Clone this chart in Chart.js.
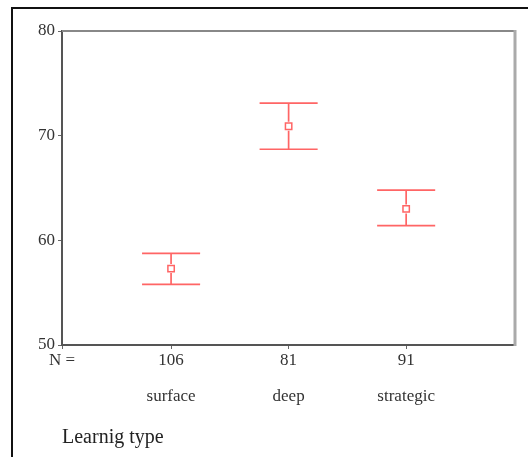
<!DOCTYPE html>
<html>
<head>
<meta charset="utf-8">
<script src="https://cdn.jsdelivr.net/npm/chart.js@4/dist/chart.umd.min.js"></script>
<style>
  html, body { margin: 0; padding: 0; background: #fff; }
  #wrap { width: 528px; height: 457px; }
</style>
</head>
<body>
<div id="wrap"><canvas id="chart" width="528" height="457"></canvas></div>
<script>
// Datos
const categories = ["surface", "deep", "strategic"];
const groupSizes = [106, 81, 91];
const means = [57.3, 70.9, 63.0];
const upperCI = [58.75, 73.1, 64.8];
const lowerCI = [55.8, 68.7, 61.4];
const yTicks = [50, 60, 70, 80];
const xTitle = "Learnig type";
const nLabel = "N =";

const X_MIN = 0.072;
const X_MAX = 3.926;
const RED = "rgba(255, 50, 50, 0.75)";
const SERIF = "'Liberation Serif', 'DejaVu Serif', serif";

// Barras de error con las escalas del gráfico
const errorBars = {
  id: "errorBars",
  afterDatasetsDraw(chart) {
    const { ctx, scales } = chart;
    const x = scales.x, y = scales.y;
    ctx.save();
    ctx.strokeStyle = RED;
    ctx.lineWidth = 1.7;
    categories.forEach((c, i) => {
      const px = x.getPixelForValue(i + 1);
      const half = x.getPixelForValue(i + 1.247) - px;
      const top = y.getPixelForValue(upperCI[i]);
      const bot = y.getPixelForValue(lowerCI[i]);
      const mid = y.getPixelForValue(means[i]);
      ctx.beginPath();
      ctx.moveTo(px, top); ctx.lineTo(px, mid - 4.5);
      ctx.moveTo(px, mid + 4.5); ctx.lineTo(px, bot);
      ctx.moveTo(px - half, top); ctx.lineTo(px + half, top);
      ctx.moveTo(px - half, bot); ctx.lineTo(px + half, bot);
      ctx.stroke();
    });
    ctx.restore();
  },
};

// Marco exterior y bordes superior/derecho
const frame = {
  id: "frame",
  beforeDraw(chart) {
    const { ctx } = chart;
    ctx.save();
    ctx.strokeStyle = "#111";
    ctx.lineWidth = 2;
    ctx.beginPath();
    ctx.moveTo(12, 457); ctx.lineTo(12, 8); ctx.lineTo(528, 8);
    ctx.stroke();
    ctx.restore();
  },
  afterDraw(chart) {
    const { ctx, chartArea: a } = chart;
    ctx.save();
    ctx.lineWidth = 2;
    ctx.strokeStyle = "#888";
    ctx.beginPath();
    ctx.moveTo(a.left, a.top); ctx.lineTo(a.right, a.top);
    ctx.stroke();
    ctx.lineWidth = 3;
    ctx.strokeStyle = "#aaa";
    ctx.beginPath();
    ctx.moveTo(a.right, a.top - 1); ctx.lineTo(a.right, a.bottom + 1);
    ctx.stroke();
    ctx.restore();
  },
};

new Chart(document.getElementById("chart"), {
  type: "scatter",
  data: {
    datasets: [
      {
        data: means.map((m, i) => ({ x: i + 1, y: m })),
        pointStyle: "rect",
        radius: 4.5,
        borderColor: RED,
        backgroundColor: "rgba(255,255,255,0)",
        borderWidth: 1.5,
      },
    ],
  },
  options: {
    responsive: false,
    animation: false,
    layout: { padding: { left: 0, top: 31, right: 13, bottom: 0 } },
    plugins: { legend: { display: false }, tooltip: { enabled: false } },
    scales: {
      x: {
        type: "linear",
        min: X_MIN,
        max: X_MAX,
        afterBuildTicks: (s) => {
          s.ticks = [{ value: X_MIN }].concat(categories.map((c, i) => ({ value: i + 1 })));
        },
        afterFit: (s) => { s.height = 112; },
        grid: { drawOnChartArea: false, drawTicks: true, tickLength: 4, color: "#666", lineWidth: 1 },
        border: { display: true, color: "#555", width: 2 },
        ticks: {
          autoSkip: false,
          maxRotation: 0,
          padding: -6,
          color: "#333",
          font: { family: SERIF, size: 17, lineHeight: "36px" },
          callback: (v) => {
            if (Math.abs(v - X_MIN) < 1e-6) return [nLabel, ""];
            const i = Math.round(v) - 1;
            return [String(groupSizes[i]), categories[i]];
          },
        },
        title: {
          display: true,
          text: xTitle,
          align: "start",
          color: "#222",
          font: { family: SERIF, size: 20, lineHeight: 1.2 },
          padding: { top: 0, bottom: 7 },
        },
      },
      y: {
        min: 50,
        max: 80,
        afterBuildTicks: (s) => { s.ticks = yTicks.map((v) => ({ value: v })); },
        afterFit: (s) => { s.width = 62; },
        grid: { drawOnChartArea: false, drawTicks: true, tickLength: 4, color: "#666", lineWidth: 1 },
        border: { display: true, color: "#555", width: 2 },
        ticks: {
          padding: 3,
          color: "#333",
          font: { family: SERIF, size: 17 },
        },
      },
    },
  },
  plugins: [frame, errorBars],
});
</script>
</body>
</html>
